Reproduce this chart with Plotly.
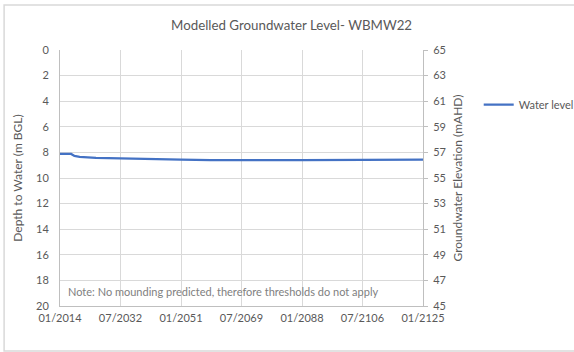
import plotly.graph_objects as go

# Modelled depth to water (m below ground level) at WBMW22
dates = ["2014-01-01", "2017-06-01", "2018-06-01", "2020-01-01", "2025-01-01",
         "2032-07-01", "2040-01-01", "2051-01-01", "2060-01-01", "2069-07-01",
         "2088-01-01", "2106-07-01", "2125-01-01"]
depth = [8.12, 8.12, 8.28, 8.35, 8.42, 8.48, 8.53, 8.57, 8.60, 8.61, 8.61, 8.59, 8.57]

# Ground surface elevation (mAHD) so that elevation = surface - depth
surface = 65
elevation = [surface - d for d in depth]

x_tick_vals = ["2014-01-01", "2032-07-01", "2051-01-01", "2069-07-01",
               "2088-01-01", "2106-07-01", "2125-01-01"]
x_tick_text = ["01/2014", "07/2032", "01/2051", "07/2069", "01/2088", "07/2106", "01/2125"]
depth_ticks = list(range(0, 21, 2))
elev_ticks = list(range(45, 66, 2))

FONT = "Lato, Carlito, Calibri, sans-serif"
TXT = "#595959"
GRID = "#d9d9d9"
AXIS = "#bfbfbf"

fig = go.Figure()
fig.add_trace(go.Scatter(
    x=dates, y=depth, mode="lines", name="Water level",
    line=dict(color="#4472C4", width=2.25), yaxis="y"))
fig.add_trace(go.Scatter(
    x=dates, y=elevation, mode="lines", showlegend=False, hoverinfo="skip",
    line=dict(color="rgba(0,0,0,0)", width=0), yaxis="y2"))

fig.update_layout(
    width=574, height=352,
    margin=dict(l=60, r=151, t=50, b=46, autoexpand=False),
    paper_bgcolor="white", plot_bgcolor="white",
    font=dict(family=FONT, size=11, color=TXT),
    title=dict(text="Modelled Groundwater Level- WBMW22", x=0.508, xanchor="center",
               y=0.928, yanchor="middle", font=dict(size=13.3, color=TXT)),
    xaxis=dict(type="date", range=["2014-01-01", "2125-01-01"],
               tickvals=x_tick_vals, ticktext=x_tick_text, showgrid=True,
               gridcolor=GRID, gridwidth=1, showline=True, linecolor=AXIS,
               linewidth=1, ticks="", zeroline=False, automargin=False,
               ticklabelstandoff=2, tickfont=dict(size=11, color=TXT)),
    yaxis=dict(range=[20, 0], tickvals=depth_ticks, showgrid=True, gridcolor=GRID,
               gridwidth=1, showline=True, linecolor=AXIS, linewidth=1, ticks="",
               zeroline=False, automargin=False, ticklabelstandoff=8,
               title=dict(text="Depth to Water (m BGL)", standoff=10,
                          font=dict(size=12, color=TXT)),
               tickfont=dict(size=11, color=TXT)),
    yaxis2=dict(range=[45, 65], tickvals=elev_ticks, overlaying="y", side="right",
                showgrid=False, showline=True, linecolor=AXIS, linewidth=1,
                ticks="outside", ticklen=4, tickcolor=AXIS, zeroline=False,
                automargin=False, ticklabelstandoff=3,
                title=dict(text="Groundwater Elevation (mAHD)", standoff=8,
                           font=dict(size=12, color=TXT)),
                tickfont=dict(size=11, color=TXT)),
    legend=dict(x=0.834, y=0.703, xref="container", yref="container",
                xanchor="left", yanchor="middle",
                font=dict(size=11, color=TXT), bgcolor="rgba(0,0,0,0)",
                itemwidth=30),
    showlegend=True,
    annotations=[dict(text="Note: No mounding predicted, therefore thresholds do not apply",
                      xref="paper", yref="paper", x=0.016, y=0.055,
                      xanchor="left", yanchor="middle", showarrow=False,
                      font=dict(size=11, color="#808080"))],
    shapes=[dict(type="rect", xref="paper", yref="paper",
                 x0=-0.154, x1=1.43, y0=-0.176, y1=1.176,
                 line=dict(color="#d9d9d9", width=1.5), layer="below")],
)

fig.write_html("out.html")
